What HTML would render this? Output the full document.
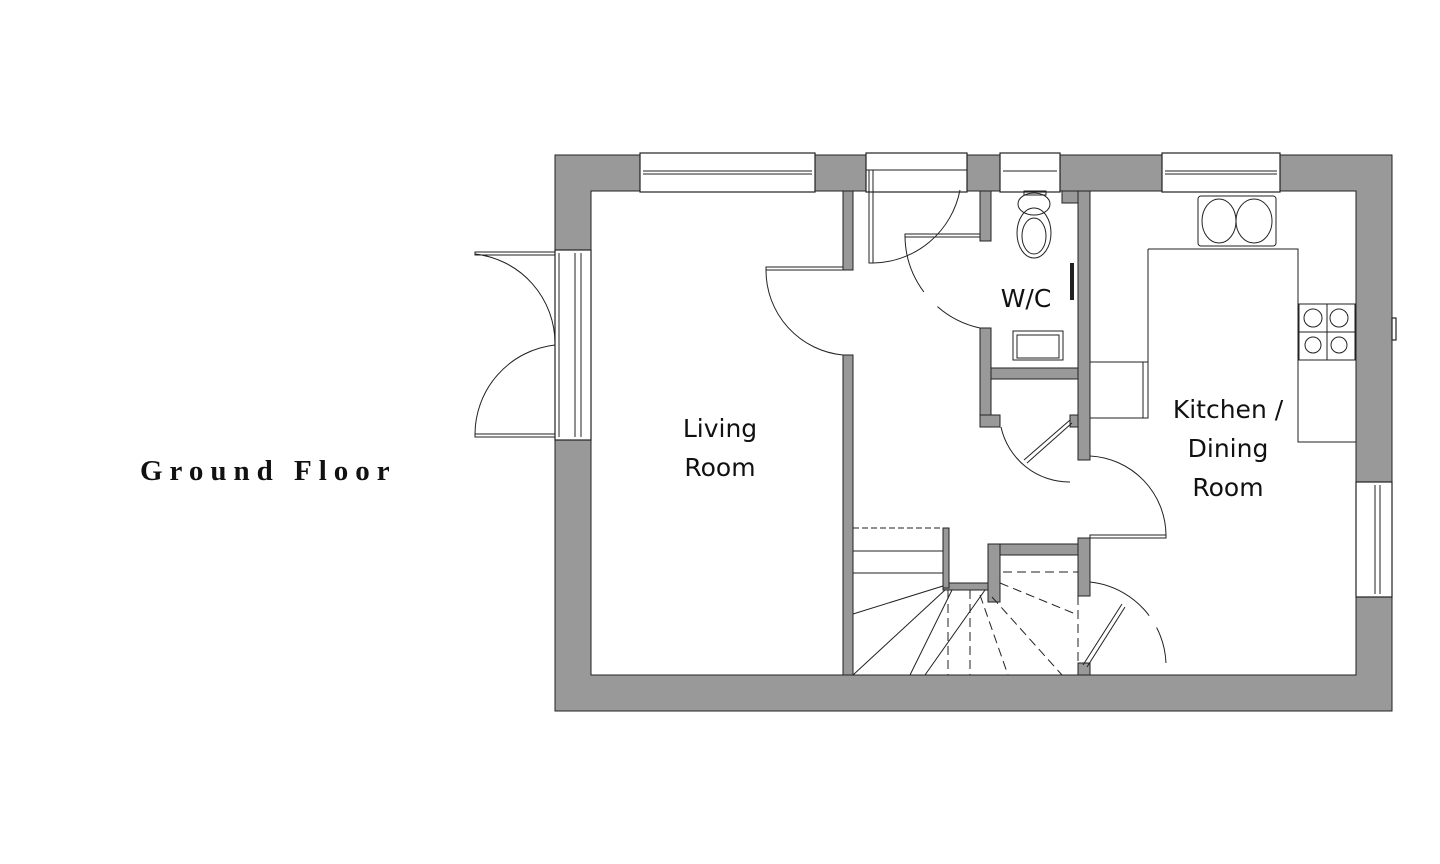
<!DOCTYPE html>
<html><head><meta charset="utf-8"><style>
html,body{margin:0;padding:0;background:#fff;width:1440px;height:864px;overflow:hidden}
svg{display:block}
.t{font-family:"DejaVu Sans","Liberation Sans",sans-serif;font-size:25px;fill:#111}
</style></head><body>
<svg width="1440" height="864" viewBox="0 0 1440 864" xmlns="http://www.w3.org/2000/svg">
<text x="140" y="480" style="font-family:'Liberation Serif',serif;font-size:29px;font-weight:bold;letter-spacing:7px" fill="#111">Ground Floor</text>
<g fill="#999" stroke="#222" stroke-width="1">
<path d="M555 155 H1392 V711 H555 Z M591 191 V675 H1356 V191 Z" fill-rule="evenodd"/>
<rect x="843" y="191" width="10" height="79"/>
<rect x="843" y="355" width="10" height="320"/>
<rect x="980" y="191" width="11" height="50"/>
<rect x="980" y="328" width="11" height="99"/>
<rect x="980" y="415" width="20" height="12"/>
<rect x="991" y="368" width="87" height="11"/>
<rect x="1078" y="191" width="12" height="269"/>
<rect x="1070" y="415" width="8" height="12"/>
<rect x="1078" y="538" width="12" height="58"/>
<rect x="988" y="544" width="90" height="11"/>
<rect x="988" y="544" width="12" height="58"/>
<rect x="943" y="583" width="45" height="7"/>
<rect x="943" y="528" width="6" height="60"/>
<rect x="1078" y="663" width="12" height="12"/>
<rect x="1062" y="191" width="16" height="12"/>
</g>
<g fill="#fff" stroke="#222" stroke-width="1.2">
<rect x="640" y="153" width="175" height="39"/>
<rect x="866" y="153" width="101" height="39"/>
<rect x="1000" y="153" width="60" height="39"/>
<rect x="1162" y="153" width="118" height="39"/>
<rect x="555" y="250" width="36" height="190"/>
<rect x="1356" y="482" width="36" height="115"/>
<rect x="1392" y="318" width="4" height="22"/>
</g>
<g fill="none" stroke="#222" stroke-width="1">
<line x1="643" y1="171" x2="812" y2="171"/><line x1="643" y1="174" x2="812" y2="174"/>
<line x1="1003" y1="171" x2="1057" y2="171"/><line x1="1165" y1="171" x2="1277" y2="171"/><line x1="1165" y1="174" x2="1277" y2="174"/>
<line x1="866" y1="170" x2="967" y2="170"/>
<line x1="559" y1="253" x2="559" y2="437"/><line x1="575" y1="253" x2="575" y2="437"/><line x1="581" y1="253" x2="581" y2="437"/>
<line x1="1375" y1="485" x2="1375" y2="594"/><line x1="1380" y1="485" x2="1380" y2="594"/>
<rect x="475" y="252" width="80" height="3"/>
<rect x="475" y="434" width="80" height="3"/>
<path d="M475 254 A90 90 0 0 1 555 344"/>
<path d="M475 435 A90 90 0 0 1 555 345"/>
<rect x="766" y="267" width="77" height="3"/>
<path d="M766 270 A85 85 0 0 0 843 355"/>
<rect x="869" y="170" width="4" height="93"/>
<path d="M873 263 A90 90 0 0 0 960 190"/>
<rect x="905" y="234" width="75" height="3"/>
<path d="M905 236 A95 95 0 0 0 980 328" stroke-dasharray="60 20"/>
<path d="M1001 427 A70 70 0 0 0 1070 482"/>
<line x1="1024" y1="460" x2="1070" y2="420"/><line x1="1027" y1="463" x2="1072" y2="423"/>
<rect x="1090" y="535" width="76" height="3"/>
<path d="M1090 456 A80 80 0 0 1 1166 535"/>
<path d="M1090 582 A85 85 0 0 1 1166 663" stroke-dasharray="70 14"/>
<line x1="1083" y1="665" x2="1122" y2="604"/><line x1="1087" y1="667" x2="1125" y2="607"/>
<ellipse cx="1034" cy="204" rx="16" ry="11"/>
<ellipse cx="1034" cy="233" rx="17" ry="25"/><ellipse cx="1034" cy="236" rx="12" ry="18"/>
<rect x="1024" y="191" width="22" height="4"/>
<rect x="1013" y="331" width="50" height="29"/><rect x="1017" y="335" width="42" height="23"/>
<rect x="1198" y="196" width="78" height="50" rx="3"/>
<ellipse cx="1219" cy="221" rx="17" ry="22"/><ellipse cx="1254" cy="221" rx="18" ry="22"/>
<path d="M1148 249 H1298 V442 H1356"/>
<path d="M1148 249 V418 H1090 M1090 362 H1148 M1143 362 V418"/>
<rect x="1299" y="304" width="56" height="56"/>
<line x1="1327" y1="304" x2="1327" y2="360"/><line x1="1299" y1="332" x2="1355" y2="332"/>
<circle cx="1313" cy="318" r="9"/><circle cx="1339" cy="318" r="9"/><circle cx="1313" cy="345" r="8"/><circle cx="1339" cy="345" r="8"/>
<line x1="853" y1="528" x2="943" y2="528" stroke-dasharray="6 3"/>
<line x1="853" y1="551" x2="943" y2="551"/>
<line x1="853" y1="573" x2="943" y2="573"/>
<line x1="853" y1="614" x2="943" y2="586"/>
<line x1="853" y1="675" x2="945" y2="590"/>
<line x1="910" y1="675" x2="952" y2="590"/>
<line x1="925" y1="675" x2="985" y2="590"/>
<g stroke-dasharray="9 5">
<line x1="948" y1="590" x2="948" y2="675"/>
<line x1="970" y1="590" x2="970" y2="675"/>
<line x1="980" y1="595" x2="1008" y2="675"/>
<line x1="992" y1="597" x2="1062" y2="675"/>
<line x1="1000" y1="583" x2="1078" y2="615"/>
<line x1="1003" y1="572" x2="1078" y2="572"/>
<line x1="1078" y1="596" x2="1078" y2="665"/>
</g>
<line x1="1072" y1="263" x2="1072" y2="300" stroke-width="4"/>
</g>
<text class="t" x="720" y="437" text-anchor="middle">Living</text>
<text class="t" x="720" y="476" text-anchor="middle">Room</text>
<text class="t" x="1026" y="307" text-anchor="middle">W/C</text>
<text class="t" x="1228" y="418" text-anchor="middle">Kitchen /</text>
<text class="t" x="1228" y="457" text-anchor="middle">Dining</text>
<text class="t" x="1228" y="496" text-anchor="middle">Room</text>
</svg>
</body></html>
